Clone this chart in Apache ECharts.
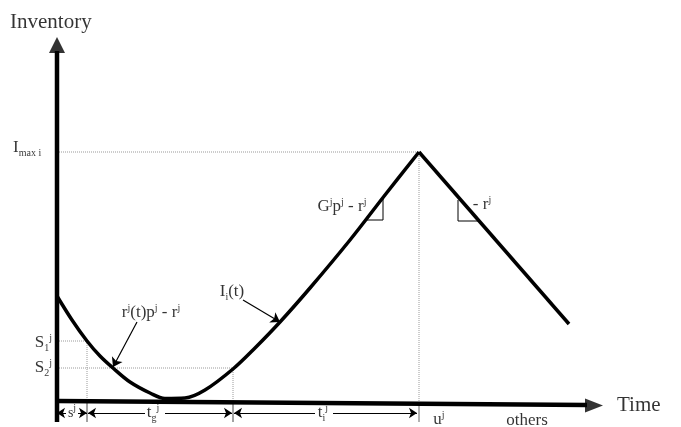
<!DOCTYPE html>
<html>
<head>
<meta charset="utf-8">
<script src="https://cdn.jsdelivr.net/npm/echarts@6/dist/echarts.min.js"></script>
<style>
  html, body { margin: 0; padding: 0; background: #fff; }
  #chart { width: 681px; height: 427px; }
</style>
</head>
<body>
<div id="chart"></div>
<script>
// inventory curve I_i(t): [time, inventory]
const curveData = [
  [0, 105], [15, 81], [30, 60], [43, 45], [56, 33], [73, 19], [93, 8],
  [108, 2.5], [128, 3], [148, 11], [176, 32], [198, 53], [223, 79],
  [253, 113], [293, 161], [328, 206], [362, 249]
];
// consumption after the peak
const declineData = [[362, 249], [512, 77]];

// axes
const timeAxis = [[0, 0], [530, -4]];
const invAxis = [[0, -21], [0, 350]];

// guide levels
const iMax = 249;
const s1 = 60;
const s2 = 33;
const tPeak = 362;
const tS1 = 30;
const tS2 = 176;

// slope markers
const slopeLeft = [[310, 181], [326, 181], [326, 203]];
const slopeRight = [[401, 201], [401, 180], [421, 180]];

// pointer arrows [from, to]
const pointers = [
  [[80, 79], [56, 34]],
  [[186, 101], [223, 79]]
];
// dimension arrows under the time axis [from, to]
const dimY = -12;
const dimArrows = [
  [[9, dimY], [0, dimY]], [[21, dimY], [30, dimY]],
  [[88, dimY], [31, dimY]], [[108, dimY], [175, dimY]],
  [[258, dimY], [177, dimY]], [[276, dimY], [360, dimY]]
];

// text annotations [x, y, rich text, align]
const notes = [
  [-47, 379, '{big|Inventory}', 'left'],
  [560, -4, '{big|Time}', 'left'],
  [-44, 253, '{n|I}{sub|max i}', 'left'],
  [-5, 58, '{n|S}{sub|1}{sup|j}', 'right'],
  [-5, 33, '{n|S}{sub|2}{sup|j}', 'right'],
  [94, 88, '{n|r}{sup|j}{n|(t)p}{sup|j}{n| - r}{sup|j}', 'center'],
  [175, 109, '{n|I}{sub|i}{n|(t)}', 'center'],
  [285, 194, '{n|G}{sup|j}{n|p}{sup|j}{n| - r}{sup|j}', 'center'],
  [425, 196, '{n|- r}{sup|j}', 'center'],
  [15, -12, '{s|s}{sup|j}', 'center'],
  [96, -12, '{n|t}{sub|g}{sup|j}', 'center'],
  [266, -12, '{n|t}{sub|i}{sup|j}', 'center'],
  [382, -19, '{n|u}{sup|j}', 'center'],
  [470, -20, '{n|others}', 'center']
];

const serif = '"Liberation Serif", "DejaVu Serif", serif';
const chart = echarts.init(document.getElementById('chart'));

const guide = (data) => ({
  type: 'line',
  data: data,
  symbol: 'none',
  silent: true,
  lineStyle: { color: '#9a9a9a', width: 1, type: 'dotted' },
  z: 1
});
const thin = (data, color) => ({
  type: 'line',
  data: data,
  symbol: 'none',
  silent: true,
  lineStyle: { color: color || '#000', width: 1 },
  z: 3
});

const option = {
  animation: false,
  grid: { left: 0, right: 0, top: 0, bottom: 0 },
  xAxis: { type: 'value', min: -57, max: 624, show: false },
  yAxis: { type: 'value', min: -26, max: 401, show: false },
  series: [
    guide([[0, iMax], [tPeak, iMax]]),
    guide([[tPeak, iMax], [tPeak, 0]]),
    guide([[0, s1], [tS1, s1], [tS1, 0]]),
    guide([[0, s2], [tS2, s2], [tS2, 0]]),
    thin([[tS1, -2], [tS1, -21]], '#444'),
    thin([[tS2, -2], [tS2, -21]], '#444'),
    thin([[tPeak, -3], [tPeak, -21]], '#666'),
    thin(slopeLeft),
    thin(slopeRight),
    {
      type: 'line',
      data: timeAxis,
      symbol: 'none',
      lineStyle: { color: '#000', width: 4.5 },
      z: 4
    },
    {
      type: 'line',
      data: invAxis,
      symbol: 'none',
      lineStyle: { color: '#000', width: 4.5 },
      z: 4
    },
    {
      type: 'scatter',
      data: [
        { value: [0, 356], symbolSize: [16, 16] },
        { value: [537, -4.5], symbolSize: [14, 18], symbolRotate: -90 }
      ],
      symbol: 'triangle',
      itemStyle: { color: '#000' },
      z: 5
    },
    {
      type: 'line',
      data: curveData,
      smooth: 0.35,
      symbol: 'none',
      lineStyle: { color: '#000', width: 3.5 },
      z: 5
    },
    {
      type: 'line',
      data: declineData,
      symbol: 'none',
      lineStyle: { color: '#000', width: 3.5 },
      z: 5
    },
    {
      type: 'lines',
      coordinateSystem: 'cartesian2d',
      data: pointers.map(p => ({ coords: p })),
      symbol: ['none', 'arrow'],
      symbolSize: 9,
      lineStyle: { color: '#000', width: 1.2, opacity: 1 },
      z: 6
    },
    {
      type: 'lines',
      coordinateSystem: 'cartesian2d',
      data: dimArrows.map(p => ({ coords: p })),
      symbol: ['none', 'arrow'],
      symbolSize: 8,
      lineStyle: { color: '#000', width: 1, opacity: 1 },
      z: 6
    },
    {
      type: 'scatter',
      symbolSize: 0,
      silent: true,
      z: 7,
      data: notes.map(n => ({
        value: [n[0], n[1]],
        label: { formatter: n[2], align: n[3] }
      })),
      label: {
        show: true,
        position: 'inside',
        verticalAlign: 'middle',
        color: '#000',
        fontFamily: serif,
        rich: {
          big: { fontFamily: serif, fontSize: 21, color: '#000' },
          n: { fontFamily: serif, fontSize: 17, lineHeight: 20, color: '#000' },
          s: { fontFamily: serif, fontSize: 14, lineHeight: 20, color: '#000' },
          sup: { fontFamily: serif, fontSize: 10, lineHeight: 20, verticalAlign: 'top', color: '#000' },
          sub: { fontFamily: serif, fontSize: 10, lineHeight: 20, verticalAlign: 'bottom', color: '#000' }
        }
      }
    }
  ]
};
chart.setOption(option);
</script>
</body>
</html>
